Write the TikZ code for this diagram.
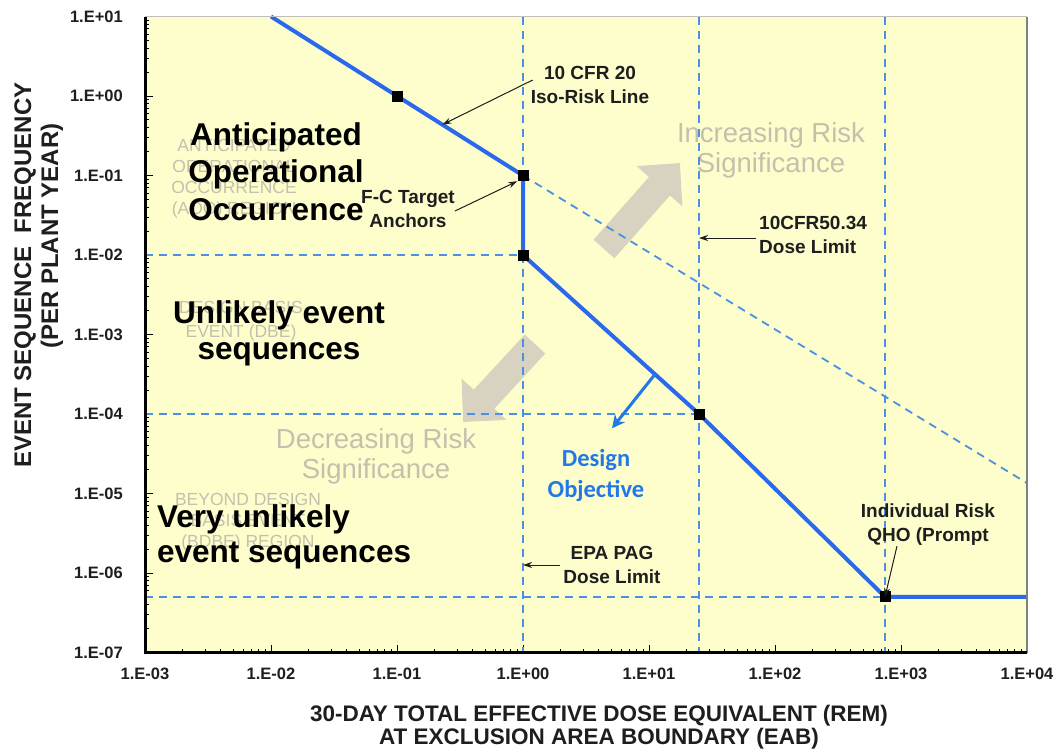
\documentclass[tikz,border=0pt]{standalone}
\usepackage{fontspec}
\setmainfont{Liberation Sans}
\newfontfamily\carlitofont{Carlito}
\usetikzlibrary{arrows.meta,calc}
\definecolor{bgyel}{RGB}{254,254,204}
\definecolor{riskblue}{RGB}{42,104,238}
\definecolor{dashblue}{RGB}{72,145,228}
\definecolor{faint}{RGB}{196,192,174}
\definecolor{arrowgray}{RGB}{216,211,192}
\definecolor{annot}{RGB}{30,30,30}
\definecolor{designblue}{RGB}{35,120,232}
\begin{document}
\begin{tikzpicture}[x=1pt,y=-1pt,
  riskline/.style={riskblue, line width=4pt, line join=round},
  guide/.style={dashblue, line width=1.8pt, dash pattern=on 8pt off 6pt},
  marker/.style={fill=black, minimum size=11pt, inner sep=0pt, draw=none, rectangle},
  annotarrow/.style={annot, line width=1pt, -{Stealth[length=9pt,width=6pt]}},
  annottext/.style={annot, font=\bfseries\fontsize{19}{24}\selectfont, align=center, inner sep=0pt},
  faintlab/.style={faint, font=\fontsize{17.5}{21}\selectfont, align=center, inner sep=0pt},
  biglab/.style={black, font=\bfseries\fontsize{31.5}{37.5}\selectfont, align=center, inner sep=0pt},
  risktext/.style={faint, font=\fontsize{27.5}{30}\selectfont, align=center, inner sep=0pt},
  bigarrow/.style={arrowgray, line width=28pt, -{Triangle[length=31pt,width=59pt]}},
  designarrow/.style={designblue, line width=3pt, -{Stealth[length=13pt,width=13pt]}},
  designlab/.style={designblue, font=\carlitofont\bfseries\fontsize{24.5}{31}\selectfont, align=center, inner sep=0pt},
  ticklab/.style={font=\bfseries\fontsize{16.5}{18}\selectfont, text=annot, inner sep=0pt},
  axtitle/.style={font=\bfseries\fontsize{22.5}{23.5}\selectfont, text=annot, inner sep=0pt, align=center},
  tickst/.style={black, line width=1pt}
]
\useasboundingbox (0,0) rectangle (1055,750);
\fill[white] (0,0) rectangle (1055,750);

% plot coordinates: (log10 dose, log10 frequency)
\begin{scope}[shift={(523pt,-96pt)},x=126pt,y=79.5pt]
  \coordinate (pSW) at (-3,-7);
  \coordinate (pNE) at (4,1);
  \coordinate (pNW) at (-3,1);
  \coordinate (pSE) at (4,-7);
  \coordinate (isoTop) at (-2,1);
  \coordinate (isoEnd) at (4,-4.87);
  \coordinate (flatEnd) at (4,-6.3);
  \coordinate (v1top) at (0,1);      \coordinate (v1bot) at (0,-7);
  \coordinate (v2top) at (1.3968,1); \coordinate (v2bot) at (1.3968,-7);
  \coordinate (v3top) at (2.873,1);  \coordinate (v3bot) at (2.873,-7);
  \coordinate (h2L) at (-3,-2);
  \coordinate (h4L) at (-3,-4);
  \coordinate (h6L) at (-3,-6.3);
  \fill[bgyel] (pSW) rectangle (pNE);
  % ticks
  \foreach \d in {-3,...,3}{
    \draw[tickst] (\d,-7) -- ++(0pt,8pt);
    \foreach \m in {2,...,9}{\draw[tickst] ({\d+log10(\m)},-7) -- ++(0pt,4pt);}
  }
  \foreach \d in {-7,...,0}{
    \draw[tickst] (-3,\d) -- ++(8pt,0pt);
    \foreach \m in {2,...,9}{\draw[tickst] (-3,{\d+log10(\m)}) -- ++(4pt,0pt);}
  }
  % tick labels
  \foreach \d/\t [count=\i] in {1/1.E+01,0/1.E+00,-1/1.E-01,-2/1.E-02,-3/1.E-03,-4/1.E-04,-5/1.E-05,-6/1.E-06,-7/1.E-07}{
    \node[ticklab, anchor=east, xshift=-22pt] (yl\i) at (-3,\d) {\t};
  }
  \foreach \d/\t [count=\i] in {-3/1.E-03,-2/1.E-02,-1/1.E-01,0/1.E+00,1/1.E+01,2/1.E+02,3/1.E+03,4/1.E+04}{
    \node[ticklab, yshift=-21pt] (xl\i) at (\d,-7) {\t};
  }
  % markers
  \node[marker] (m1) at (-1,0) {};
  \node[marker] (m2) at (0,-1) {};
  \node[marker] (m3) at (0,-2) {};
  \node[marker] (m4) at (1.3968,-4) {};
  \node[marker] (m5) at (2.873,-6.3) {};
\end{scope}

% big grey arrows
\coordinate (incTail) at (604,249);
\coordinate (incTip) at (680,163);
\coordinate (decTail) at (535,344);
\coordinate (decTip) at (463,422);
\draw[bigarrow] (incTail) -- (incTip);
\draw[bigarrow] (decTail) -- (decTip);

% faint region labels
\node[faintlab, anchor=north] (aooF) at (234,139) {ANTICIPATED\\OPERATIONAL\\OCCURRENCE\\(AOO) REGION};
\node[faintlab, anchor=north, font=\fontsize{17.5}{24}\selectfont] (dbeF) at (241,301) {DESIGN BASIS\\EVENT (DBE)};
\node[faintlab, anchor=north] (bdbeF) at (248,493) {BEYOND DESIGN\\BASIS EVENT\\(BDBE) REGION};
\node[risktext, anchor=north] (incT) at (771,122) {Increasing Risk\\Significance};
\node[risktext, anchor=north] (decT) at (376,428) {Decreasing Risk\\Significance};

% guide lines
\draw[guide] (v1top) -- (v1bot);
\draw[guide] (v2top) -- (v2bot);
\draw[guide] (v3top) -- (v3bot);
\draw[guide] (h2L) -- (m3.center);
\draw[guide] (h4L) -- (m4.center);
\draw[guide] (h6L) -- (m5.center);
\draw[guide] (m2.center) -- (isoEnd);

% risk curve
\draw[riskline] (isoTop) -- (m1.center) -- (m2.center) -- (m3.center) -- (m4.center) -- (m5.center) -- (flatEnd);
\foreach \n in {m1,m2,m3,m4,m5}{\fill[black] ($(\n)+(-5.5,-5.5)$) rectangle ($(\n)+(5.5,5.5)$);}

% axes
\draw[gray!50, line width=1pt] (pNW) -- (pNE);
\draw[gray, line width=2pt] (pNE) -- (pSE);
\draw[black, line width=3pt] (pNW) -- (pSW) -- (pSE);

% design objective
\coordinate (dpt) at ($(m3)!0.75!(m4)$);
\coordinate (dtip) at ($(dpt)+(-43,54)$);
\draw[designarrow] (dpt) -- (dtip);
\node[designlab] (desT) at (596,475) {Design\\Objective};

% annotations
\node[annottext] (isoT) at (590,85) {10 CFR 20\\Iso-Risk Line};
\node[annottext] (fcT) at (408,209) {F-C Target\\Anchors};
\node[annottext, align=left, anchor=west] (cfrT) at (759,235) {10CFR50.34\\Dose Limit};
\node[annottext] (epaT) at (612,565) {EPA PAG\\Dose Limit};
\node[annottext] (qhoT) at (928,525) {Individual Risk\\QHO (Prompt};
\coordinate (isoHit) at ($(m1)!0.36!(m2)$);
\draw[annotarrow] ([xshift=2pt,yshift=5pt]isoT.west) -- (isoHit);
\draw[annotarrow] ([yshift=-2pt]fcT.east) -- (m2.south west);
\draw[annotarrow] ([xshift=-3pt,yshift=-3pt]cfrT.west) -- ([yshift=-3pt]cfrT.west -| v2top);
\draw[annotarrow] ([xshift=-3pt]epaT.west) -- (epaT.west -| v1top);
\draw[annotarrow] ([xshift=-31pt]qhoT.south) -- (m5.center);

% big labels
\node[biglab, anchor=north] (aoo) at (276,122) {Anticipated\\Operational\\Occurrence};
\node[biglab, anchor=north, font=\bfseries\fontsize{31.5}{36}\selectfont] (unl) at (279,300) {Unlikely event\\sequences};
\node[biglab, anchor=north west, align=left, font=\bfseries\fontsize{31.5}{35.5}\selectfont] (vun) at (157,504) {Very unlikely\\event sequences};

% axis titles
\node[axtitle] (xTitle) at (599,727) {30-DAY TOTAL EFFECTIVE DOSE EQUIVALENT (REM)\\AT EXCLUSION AREA BOUNDARY (EAB)};
\node[axtitle, rotate=90, font=\bfseries\fontsize{24}{24}\selectfont] (yT1) at (25,275) {EVENT SEQUENCE\ \ FREQUENCY};
\node[axtitle, rotate=90, font=\bfseries\fontsize{24}{24}\selectfont] (yT2) at (52,236) {(PER PLANT YEAR)};
\end{tikzpicture}
\end{document}
